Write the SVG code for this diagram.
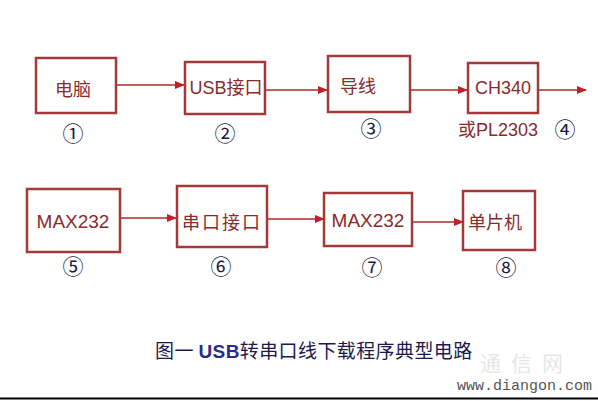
<svg xmlns="http://www.w3.org/2000/svg" width="598" height="401" viewBox="0 0 598 401">
<defs>
<style>
.box{fill:#fff;stroke:#a33a3a;stroke-width:2.5}
.lbl{font-family:"Liberation Sans","Noto Sans CJK SC",sans-serif;font-size:18px;fill:#8a2a2a;text-anchor:middle}
.num{font-family:"Noto Sans CJK SC","DejaVu Sans",sans-serif;font-size:21px;fill:#1a1a40;text-anchor:middle}
.edge{stroke:#b02a2a;stroke-width:1.5;fill:none;marker-end:url(#ah)}
.title{font-family:"Noto Sans CJK SC","Liberation Sans",sans-serif;font-size:19px;fill:#1a1a50;letter-spacing:0.4px}
</style>
<marker id="ah" markerWidth="10" markerHeight="8" refX="9" refY="4" orient="auto" markerUnits="userSpaceOnUse">
<path d="M0,0 L10,4 L0,8 Z" fill="#c0202a"/>
</marker>
</defs>
<rect width="598" height="401" fill="#fff"/>
<g id="connectors">
<line class="edge" x1="117" y1="85" x2="184" y2="85"/>
<line class="edge" x1="266" y1="90" x2="327" y2="90"/>
<line class="edge" x1="411" y1="90" x2="467" y2="90"/>
<line class="edge" x1="539" y1="90" x2="586" y2="90"/>
<line class="edge" x1="121" y1="218" x2="176" y2="218"/>
<line class="edge" x1="268" y1="219" x2="324" y2="219"/>
<line class="edge" x1="413" y1="222" x2="463" y2="222"/>
</g>
<g id="n1"><rect class="box" x="36" y="58" width="80" height="55"/><text class="lbl" x="73" y="96">电脑</text><text class="num" x="73" y="141">①</text></g>
<g id="n2"><rect class="box" x="185" y="62" width="80" height="52"/><text class="lbl" x="226" y="94">USB接口</text><text class="num" x="225" y="141">②</text></g>
<g id="n3"><rect class="box" x="328" y="56" width="82" height="56"/><text class="lbl" x="358" y="93">导线</text><text class="num" x="371" y="136">③</text></g>
<g id="n4"><rect class="box" x="468" y="63" width="70" height="50"/><text class="lbl" x="503" y="94">CH340</text><text class="lbl" x="498" y="136">或PL2303</text><text class="num" x="565" y="137">④</text></g>
<g id="n5"><rect class="box" x="27" y="189" width="93" height="63"/><text class="lbl" x="73" y="228" style="font-size:19px">MAX232</text><text class="num" x="73" y="274">⑤</text></g>
<g id="n6"><rect class="box" x="177" y="186" width="90" height="61"/><text class="lbl" x="222" y="229" style="letter-spacing:2px">串口接口</text><text class="num" x="221" y="274">⑥</text></g>
<g id="n7"><rect class="box" x="324" y="193" width="88" height="53"/><text class="lbl" x="368" y="227" style="font-size:19px">MAX232</text><text class="num" x="372" y="275">⑦</text></g>
<g id="n8"><rect class="box" x="463" y="191" width="72" height="59"/><text class="lbl" x="495" y="229">单片机</text><text class="num" x="506" y="275">⑧</text></g>
<text class="title" x="155" y="358">图一 <tspan font-family="Liberation Sans" font-weight="bold" fill="#2a2a90">USB</tspan>转串口线下载程序典型电路</text>
<text x="480" y="371" font-family="Noto Sans CJK SC,sans-serif" font-size="21" fill="#e6e6e6" letter-spacing="10">通信网</text>
<text x="457" y="390" font-family="Liberation Mono,monospace" font-size="15" fill="#555">www.diangon.com</text>
<line x1="0" y1="398.5" x2="598" y2="398.5" stroke="#000" stroke-width="2"/>
</svg>
